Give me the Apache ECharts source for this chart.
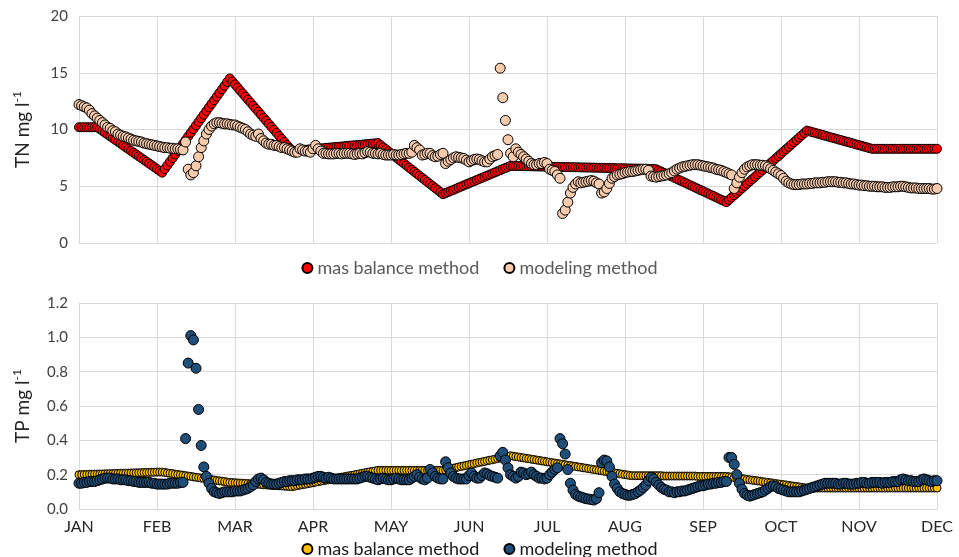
<!DOCTYPE html>
<html>
<head>
<meta charset="utf-8">
<script src="https://cdn.jsdelivr.net/npm/echarts@6/dist/echarts.min.js"></script>
<style>
html,body{margin:0;padding:0;background:#fff;}
#chart{width:959px;height:557px;}
</style>
</head>
<body>
<div id="chart"></div>
<script>
// x-axis tick labels (one per month boundary, 30 day-units apart)
var months = ['JAN','FEB','MAR','APR','MAY','JUN','JUL','AUG','SEP','OCT','NOV','DEC'];
var legendLabels = {tnMass:'mas balance method', tnModel:'modeling method', tpMass:'mas balance method', tpModel:'modeling method'};

// TN mg/l, mass balance method (daily, day 0 .. 330)
var tnMass = [
10.2,10.2,10.2,10.2,10.2,10.2,10.2,10.2,10.04,9.88,
9.72,9.56,9.40,9.24,9.08,8.92,8.76,8.60,8.44,8.28,
8.12,7.96,7.80,7.64,7.48,7.32,7.16,7.00,6.84,6.68,
6.52,6.36,6.20,6.52,6.84,7.16,7.48,7.80,8.12,8.43,
8.75,9.07,9.39,9.71,10.03,10.35,10.67,10.99,11.31,11.63,
11.95,12.26,12.58,12.90,13.22,13.54,13.86,14.18,14.50,14.23,
13.97,13.70,13.43,13.17,12.90,12.63,12.37,12.10,11.83,11.57,
11.30,11.03,10.77,10.50,10.23,9.97,9.70,9.43,9.17,8.90,
8.63,8.37,8.10,8.12,8.14,8.16,8.18,8.21,8.23,8.25,
8.27,8.29,8.31,8.33,8.35,8.38,8.40,8.42,8.44,8.46,
8.48,8.50,8.52,8.55,8.57,8.59,8.61,8.63,8.65,8.67,
8.69,8.72,8.74,8.76,8.78,8.80,8.62,8.44,8.26,8.08,
7.90,7.72,7.54,7.36,7.18,7.00,6.82,6.64,6.46,6.28,
6.10,5.92,5.74,5.56,5.38,5.20,5.02,4.84,4.66,4.48,
4.30,4.40,4.49,4.59,4.68,4.78,4.88,4.97,5.07,5.17,
5.26,5.36,5.45,5.55,5.65,5.74,5.84,5.93,6.03,6.13,
6.22,6.32,6.42,6.51,6.61,6.70,6.80,6.79,6.79,6.78,
6.78,6.77,6.77,6.76,6.76,6.75,6.75,6.74,6.74,6.73,
6.73,6.72,6.72,6.71,6.71,6.70,6.70,6.69,6.69,6.68,
6.68,6.67,6.67,6.66,6.66,6.65,6.65,6.64,6.64,6.63,
6.63,6.62,6.62,6.61,6.61,6.60,6.60,6.59,6.59,6.58,
6.58,6.57,6.57,6.56,6.56,6.55,6.55,6.54,6.54,6.53,
6.53,6.52,6.50,6.39,6.29,6.18,6.07,5.96,5.86,5.75,
5.64,5.53,5.43,5.32,5.21,5.10,5.00,4.89,4.78,4.67,
4.57,4.46,4.35,4.24,4.14,4.03,3.92,3.81,3.71,3.60,
3.80,4.01,4.21,4.41,4.61,4.82,5.02,5.22,5.43,5.63,
5.83,6.04,6.24,6.44,6.65,6.85,7.05,7.25,7.46,7.66,
7.86,8.07,8.27,8.47,8.68,8.88,9.08,9.29,9.49,9.69,
9.90,9.84,9.77,9.71,9.64,9.58,9.52,9.45,9.39,9.32,
9.26,9.20,9.13,9.07,9.00,8.94,8.88,8.81,8.75,8.68,
8.62,8.56,8.49,8.43,8.36,8.30,8.30,8.30,8.30,8.30,
8.30,8.30,8.30,8.30,8.30,8.30,8.30,8.30,8.30,8.30,
8.30,8.30,8.30,8.30,8.30,8.30,8.30,8.30,8.30,8.30,
8.30];

// TN mg/l, modeling method
var tnModel = [
12.2,12.1,12.0,11.9,11.7,11.4,11.2,11.0,10.8,10.6,
10.4,10.2,10.1,9.9,9.8,9.6,9.5,9.4,9.35,9.25,
9.15,9.05,9.0,8.95,8.9,8.8,8.75,8.7,8.65,8.6,
8.55,8.5,8.45,8.4,8.4,8.35,8.35,8.3,8.3,8.25,
8.2,8.9,6.5,6.0,6.2,6.8,7.6,8.4,9.0,9.6,
10.0,10.3,10.5,10.6,10.6,10.55,10.5,10.5,10.45,10.4,
10.4,10.3,10.2,10.1,10.0,9.8,9.6,9.5,9.4,9.6,
9.2,9.0,8.8,8.7,8.7,8.6,8.6,8.5,8.4,8.4,
8.3,8.2,8.1,8.0,8.0,8.3,8.2,8.1,8.1,8.0,
8.3,8.6,8.3,8.1,7.9,7.9,7.85,7.85,7.85,7.9,
7.9,7.85,7.9,7.9,7.9,7.85,7.8,7.85,7.9,7.85,
7.95,8.05,8.0,7.9,7.9,7.85,7.9,7.8,7.75,7.75,
7.75,7.8,7.75,7.75,7.8,7.85,7.9,7.9,8.0,8.6,
8.4,8.2,7.75,7.8,7.9,7.9,7.7,7.6,7.65,7.8,
7.9,7.0,7.2,7.35,7.5,7.6,7.55,7.5,7.45,7.3,
7.15,7.25,7.35,7.4,7.35,7.25,7.15,7.15,7.4,7.6,
7.7,7.8,15.4,12.8,10.8,9.1,7.9,7.6,8.3,8.0,
7.8,7.6,7.4,7.2,7.0,6.9,6.9,7.0,7.0,7.1,
7.0,6.5,6.4,6.3,6.0,5.7,2.6,2.9,3.6,4.4,
4.9,5.2,5.4,5.3,5.35,5.4,5.45,5.5,5.45,5.3,
5.2,4.4,4.5,4.8,5.25,5.7,5.85,6.0,6.05,6.1,
6.2,6.25,6.3,6.3,6.35,6.4,6.45,6.5,6.5,6.4,
5.9,5.85,5.8,5.85,5.9,5.95,6.0,6.1,6.2,6.35,
6.5,6.6,6.7,6.75,6.8,6.85,6.9,6.9,6.9,6.85,
6.8,6.75,6.7,6.65,6.6,6.5,6.45,6.4,6.3,6.2,
6.1,6.0,4.8,5.3,5.8,6.2,6.5,6.7,6.8,6.9,
6.9,6.9,6.85,6.85,6.8,6.7,6.55,6.4,6.25,6.1,
5.95,5.7,5.45,5.3,5.2,5.15,5.15,5.15,5.2,5.2,
5.2,5.25,5.25,5.3,5.3,5.3,5.35,5.35,5.4,5.4,
5.4,5.4,5.35,5.35,5.3,5.3,5.25,5.2,5.2,5.15,
5.1,5.1,5.05,5.05,5.0,5.0,5.0,4.95,4.95,4.95,
4.9,4.9,4.9,4.95,4.95,4.95,5.0,5.0,4.95,4.9,
4.85,4.85,4.85,4.8,4.8,4.8,4.8,4.8,4.75,4.75,
4.8];

// TP mg/l, mass balance method
var tpMass = [
0.200,0.200,0.201,0.201,0.202,0.202,0.203,0.203,0.204,0.204,
0.205,0.205,0.206,0.206,0.207,0.207,0.208,0.208,0.209,0.209,
0.210,0.210,0.211,0.211,0.212,0.212,0.213,0.213,0.214,0.214,
0.215,0.215,0.215,0.213,0.210,0.208,0.206,0.203,0.201,0.199,
0.197,0.194,0.192,0.190,0.187,0.185,0.183,0.180,0.178,0.176,
0.173,0.171,0.169,0.166,0.164,0.162,0.160,0.157,0.155,0.154,
0.153,0.152,0.151,0.150,0.149,0.148,0.147,0.146,0.145,0.144,
0.143,0.141,0.140,0.139,0.138,0.137,0.136,0.135,0.134,0.133,
0.132,0.131,0.130,0.133,0.136,0.139,0.142,0.144,0.147,0.150,
0.153,0.156,0.159,0.162,0.165,0.168,0.170,0.173,0.176,0.179,
0.182,0.185,0.188,0.191,0.194,0.196,0.199,0.202,0.205,0.208,
0.211,0.214,0.217,0.219,0.222,0.225,0.225,0.225,0.225,0.225,
0.225,0.225,0.225,0.225,0.225,0.225,0.225,0.225,0.225,0.225,
0.225,0.225,0.225,0.225,0.225,0.225,0.225,0.225,0.225,0.225,
0.225,0.228,0.232,0.235,0.238,0.241,0.245,0.248,0.251,0.254,
0.258,0.261,0.264,0.268,0.271,0.274,0.277,0.281,0.284,0.287,
0.290,0.294,0.297,0.300,0.304,0.307,0.310,0.308,0.305,0.303,
0.300,0.298,0.295,0.293,0.290,0.288,0.285,0.283,0.280,0.278,
0.275,0.273,0.270,0.268,0.265,0.263,0.260,0.258,0.255,0.253,
0.250,0.248,0.245,0.243,0.240,0.238,0.235,0.233,0.230,0.228,
0.225,0.223,0.220,0.218,0.215,0.213,0.210,0.208,0.205,0.203,
0.200,0.198,0.195,0.194,0.194,0.194,0.194,0.194,0.194,0.194,
0.194,0.194,0.194,0.194,0.194,0.192,0.192,0.192,0.192,0.192,
0.192,0.192,0.192,0.192,0.192,0.192,0.192,0.192,0.190,0.190,
0.190,0.190,0.190,0.190,0.190,0.190,0.190,0.190,0.190,0.190,
0.188,0.186,0.183,0.181,0.179,0.177,0.175,0.172,0.170,0.168,
0.166,0.164,0.162,0.159,0.157,0.155,0.153,0.151,0.148,0.146,
0.144,0.142,0.140,0.137,0.135,0.133,0.131,0.129,0.126,0.124,
0.122,0.122,0.122,0.122,0.122,0.122,0.122,0.122,0.122,0.122,
0.122,0.122,0.122,0.122,0.122,0.122,0.122,0.122,0.122,0.122,
0.122,0.122,0.122,0.122,0.122,0.122,0.122,0.122,0.122,0.122,
0.122,0.122,0.122,0.122,0.122,0.122,0.122,0.122,0.122,0.122,
0.122,0.122,0.122,0.122,0.122,0.122,0.122,0.122,0.122,0.122,
0.122];

// TP mg/l, modeling method
var tpModel = [
0.15,0.15,0.155,0.155,0.16,0.16,0.16,0.165,0.17,0.175,
0.18,0.18,0.18,0.175,0.175,0.175,0.17,0.17,0.17,0.165,
0.165,0.16,0.16,0.155,0.155,0.155,0.155,0.155,0.15,0.15,
0.145,0.145,0.145,0.145,0.145,0.15,0.15,0.15,0.15,0.155,
0.155,0.41,0.85,1.01,0.985,0.82,0.58,0.37,0.245,0.19,
0.15,0.12,0.1,0.095,0.09,0.095,0.1,0.1,0.1,0.1,
0.105,0.105,0.105,0.11,0.115,0.12,0.13,0.14,0.16,0.175,
0.18,0.17,0.155,0.15,0.145,0.145,0.145,0.15,0.155,0.16,
0.16,0.165,0.165,0.165,0.17,0.17,0.17,0.175,0.175,0.175,
0.18,0.185,0.19,0.19,0.185,0.18,0.185,0.18,0.175,0.175,
0.175,0.175,0.175,0.175,0.175,0.175,0.175,0.175,0.18,0.185,
0.19,0.19,0.185,0.18,0.175,0.17,0.175,0.18,0.175,0.17,
0.17,0.175,0.18,0.175,0.17,0.17,0.17,0.17,0.18,0.19,
0.2,0.185,0.175,0.17,0.18,0.23,0.21,0.19,0.18,0.175,
0.175,0.275,0.24,0.21,0.19,0.18,0.175,0.175,0.175,0.175,
0.195,0.21,0.19,0.18,0.18,0.195,0.21,0.205,0.195,0.19,
0.185,0.18,0.31,0.33,0.285,0.24,0.2,0.19,0.18,0.19,
0.215,0.21,0.2,0.205,0.215,0.2,0.19,0.18,0.18,0.175,
0.18,0.2,0.215,0.23,0.24,0.41,0.38,0.32,0.23,0.15,
0.11,0.085,0.075,0.07,0.065,0.06,0.058,0.055,0.052,0.06,
0.095,0.27,0.285,0.28,0.245,0.19,0.145,0.12,0.1,0.09,
0.085,0.08,0.08,0.085,0.09,0.1,0.11,0.125,0.14,0.165,
0.185,0.175,0.155,0.14,0.125,0.115,0.11,0.1,0.1,0.095,
0.1,0.1,0.105,0.105,0.11,0.115,0.12,0.125,0.13,0.135,
0.135,0.14,0.145,0.145,0.15,0.15,0.155,0.155,0.16,0.16,
0.3,0.3,0.26,0.2,0.15,0.115,0.09,0.08,0.075,0.08,
0.085,0.09,0.095,0.1,0.11,0.12,0.13,0.135,0.13,0.12,
0.115,0.11,0.105,0.1,0.1,0.1,0.1,0.1,0.105,0.11,
0.115,0.12,0.125,0.13,0.135,0.14,0.145,0.15,0.15,0.15,
0.15,0.15,0.145,0.145,0.15,0.15,0.145,0.145,0.145,0.15,
0.15,0.155,0.155,0.15,0.15,0.155,0.155,0.155,0.155,0.15,
0.155,0.155,0.155,0.16,0.16,0.16,0.17,0.175,0.17,0.165,
0.165,0.16,0.16,0.16,0.17,0.175,0.17,0.165,0.16,0.165,
0.165];

function pts(arr){ return arr.map(function(v,i){ return [i, v]; }); }

var FONT = 'Lato, "Liberation Sans", sans-serif';
var gridColor = '#d9d9d9';

function xAxisCfg(idx, showLabels){
  return {
    type:'value', gridIndex:idx, min:0, max:330, interval:30,
    axisLine:{show:true, lineStyle:{color:gridColor, width:1}},
    axisTick:{show:false},
    splitLine:{show:true, lineStyle:{color:gridColor, width:1}},
    axisLabel:{show:showLabels, color:'#262626', fontFamily:FONT, fontSize:16, margin:10,
      formatter:function(v){ return (v % 30 === 0) ? months[v/30] : ''; }}
  };
}

var option = {
  animation:false,
  backgroundColor:'#ffffff',
  grid:[
    {left:79, right:22, top:16, height:227},
    {left:79, right:22, top:303, height:206}
  ],
  xAxis:[ xAxisCfg(0,false), xAxisCfg(1,true) ],
  yAxis:[
    {type:'value', gridIndex:0, min:0, max:20, interval:5,
     axisLine:{show:false}, axisTick:{show:false},
     splitLine:{lineStyle:{color:gridColor, width:1}},
     axisLabel:{color:'#404040', fontFamily:FONT, fontSize:15, margin:11},
     name:'{a|TN mg l}{s|-1}', nameLocation:'middle', nameGap:44, nameRotate:90,
     nameTextStyle:{fontFamily:FONT, color:'#262626',
       rich:{a:{fontFamily:FONT, fontSize:19, color:'#262626', lineHeight:24},
             s:{fontFamily:FONT, fontSize:12, color:'#262626', verticalAlign:'top', lineHeight:24}}}},
    {type:'value', gridIndex:1, min:0, max:1.2, interval:0.2,
     axisLine:{show:false}, axisTick:{show:false},
     splitLine:{lineStyle:{color:gridColor, width:1}},
     axisLabel:{color:'#404040', fontFamily:FONT, fontSize:15, margin:11,
       formatter:function(v){ return v.toFixed(1); }},
     name:'{a|TP mg l}{s|-1}', nameLocation:'middle', nameGap:44, nameRotate:90,
     nameTextStyle:{fontFamily:FONT, color:'#262626',
       rich:{a:{fontFamily:FONT, fontSize:19, color:'#262626', lineHeight:24},
             s:{fontFamily:FONT, fontSize:12, color:'#262626', verticalAlign:'top', lineHeight:24}}}}
  ],
  legend:[
    {data:['tnMass','tnModel'], left:'center', top:254, icon:'circle', itemWidth:10, itemHeight:10, itemGap:24,
     formatter:function(n){ return legendLabels[n]; },
     textStyle:{fontFamily:FONT, fontSize:18, color:'#595959'}},
    {data:['tpMass','tpModel'], left:'center', top:535, icon:'circle', itemWidth:10, itemHeight:10, itemGap:24,
     formatter:function(n){ return legendLabels[n]; },
     textStyle:{fontFamily:FONT, fontSize:18, color:'#1a1a1a'}}
  ],
  series:[
    {name:'tnMass', type:'scatter', xAxisIndex:0, yAxisIndex:0, data:pts(tnMass), symbolSize:9,
     itemStyle:{color:'#ff0000', borderColor:'#000000', borderWidth:1, opacity:1}},
    {name:'tnModel', type:'scatter', xAxisIndex:0, yAxisIndex:0, data:pts(tnModel), symbolSize:10,
     itemStyle:{color:'#f8cbad', borderColor:'#000000', borderWidth:1, opacity:1}},
    {name:'tpMass', type:'scatter', xAxisIndex:1, yAxisIndex:1, data:pts(tpMass), symbolSize:8,
     itemStyle:{color:'#ffc000', borderColor:'#000000', borderWidth:1, opacity:1}},
    {name:'tpModel', type:'scatter', xAxisIndex:1, yAxisIndex:1, data:pts(tpModel), symbolSize:10,
     itemStyle:{color:'#1f4e79', borderColor:'#000000', borderWidth:1, opacity:1}}
  ]
};

var chart = echarts.init(document.getElementById('chart'), null, {renderer:'canvas'});
chart.setOption(option);
</script>
</body>
</html>
